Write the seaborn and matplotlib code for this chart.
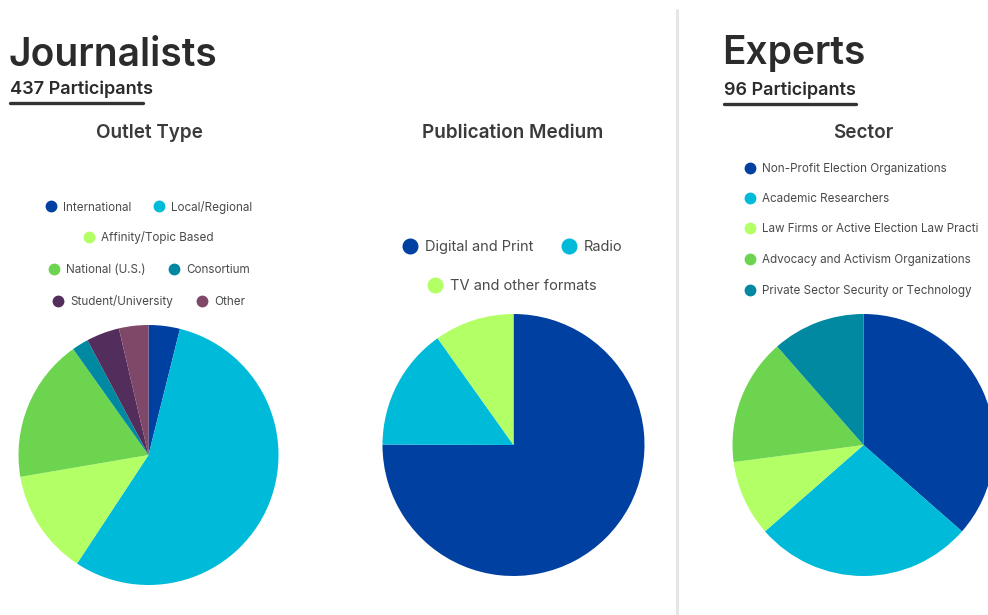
import matplotlib
matplotlib.use("Agg")
import matplotlib.pyplot as plt
from matplotlib.lines import Line2D
import seaborn as sns

# ---------------- data ----------------
outlet_labels = ["International", "Local/Regional", "Affinity/Topic Based",
                 "National (U.S.)", "Consortium", "Student/University", "Other"]
outlet_values = [17, 242, 57, 78, 9, 18, 16]

medium_labels = ["Digital and Print", "Radio", "TV and other formats"]
medium_values = [328, 66, 43]

sector_labels = ["Non-Profit Election Organizations", "Academic Researchers",
                 "Law Firms or Active Election Law Practi",
                 "Advocacy and Activism Organizations",
                 "Private Sector Security or Technology"]
sector_values = [35, 26, 9, 15, 11]

journalists_n = 437
experts_n = 96

# ---------------- style ----------------
sns.set_theme(style="white")
plt.rcParams["font.family"] = ["Inter", "DejaVu Sans"]

DARK_BLUE = "#0040A1"
CYAN = "#00BAD9"
LIME = "#B3FF66"
GREEN = "#6DD44F"
TEAL = "#0089A1"
PURPLE = "#532D5C"
MAUVE = "#7F4868"

outlet_pal = sns.color_palette([DARK_BLUE, CYAN, LIME, GREEN, TEAL, PURPLE, MAUVE])
medium_pal = sns.color_palette([DARK_BLUE, CYAN, LIME])
sector_pal = sns.color_palette([DARK_BLUE, CYAN, LIME, GREEN, TEAL])

W, H = 988, 615
fig = plt.figure(figsize=(W / 100, H / 100), dpi=100)
fig.patch.set_facecolor("white")

TXT = "#2b2b2b"
LEG = "#4a4a4a"


def fx(x):
    return x / W


def fy(y):
    return 1 - y / H


def pie_axes(cx, cy, r):
    ax = fig.add_axes([fx(cx - r), fy(cy + r), 2 * r / W, 2 * r / H])
    ax.set_xlim(-1, 1)
    ax.set_ylim(-1, 1)
    ax.set_axis_off()
    return ax


def draw_pie(ax, values, pal):
    ax.pie(values, colors=pal, startangle=90, counterclock=False, radius=1,
           wedgeprops=dict(linewidth=0), frame=False)
    ax.set_xlim(-1, 1)
    ax.set_ylim(-1, 1)


# pies
ax1 = pie_axes(148.5, 455, 130)
draw_pie(ax1, outlet_values, outlet_pal)
ax2 = pie_axes(513.5, 445, 131)
draw_pie(ax2, medium_values, medium_pal)
ax3 = pie_axes(863.5, 445, 131)
draw_pie(ax3, sector_values, sector_pal)


def legend_row(labels, colors, cx, cy, fs, ms, loc="center", spacing=2.0):
    handles = [Line2D([0], [0], marker="o", linestyle="", markersize=ms,
                      markerfacecolor=c, markeredgecolor=c) for c in colors]
    fig.legend(handles, labels, loc=loc, bbox_to_anchor=(fx(cx), fy(cy)),
               ncol=len(labels), frameon=False, fontsize=fs,
               handlelength=0.9, handletextpad=0.58, columnspacing=spacing,
               labelcolor=LEG, borderpad=0, borderaxespad=0)


# legend for outlet type
rows1 = [[0, 1], [2], [3, 4], [5, 6]]
ys1 = [207, 238, 270, 302]
for row, y in zip(rows1, ys1):
    legend_row([outlet_labels[i] for i in row], [outlet_pal[i] for i in row],
               149, y, 8.4, 7.5)

# legend for medium
rows2 = [[0, 1], [2]]
ys2 = [247, 286]
for row, y in zip(rows2, ys2):
    legend_row([medium_labels[i] for i in row], [medium_pal[i] for i in row],
               513, y, 10.5, 10.5, spacing=2.0)

# legend for sector (left aligned)
ys3 = [169, 199, 229, 260, 291]
for i, y in enumerate(ys3):
    legend_row([sector_labels[i]], [sector_pal[i]], 744.5, y, 8.4, 7.5,
               loc="center left")

# headings
fig.text(fx(8), fy(55), "Journalists", fontsize=28, fontweight="semibold",
         color=TXT, ha="left", va="center")
fig.text(fx(10), fy(89), f"{journalists_n} Participants", fontsize=13,
         fontweight="semibold", color=TXT, ha="left", va="center")
fig.add_artist(Line2D([fx(10), fx(143)], [fy(103), fy(103)], color="#333333",
                      linewidth=2.4, solid_capstyle="round"))

fig.text(fx(722), fy(53), "Experts", fontsize=28, fontweight="semibold",
         color=TXT, ha="left", va="center")
fig.text(fx(724), fy(90), f"{experts_n} Participants", fontsize=13,
         fontweight="semibold", color=TXT, ha="left", va="center")
fig.add_artist(Line2D([fx(724), fx(856)], [fy(104), fy(104)], color="#333333",
                      linewidth=2.4, solid_capstyle="round"))

# sub titles
fig.text(fx(149), fy(133), "Outlet Type", fontsize=13.6, fontweight="semibold",
         color="#3a3a3a", ha="center", va="center")
fig.text(fx(513), fy(133), "Publication Medium", fontsize=13.6, fontweight="semibold",
         color="#3a3a3a", ha="center", va="center")
fig.text(fx(863), fy(133), "Sector", fontsize=13.6, fontweight="semibold",
         color="#3a3a3a", ha="center", va="center")

# divider
fig.add_artist(Line2D([fx(677), fx(677)], [fy(10), fy(615)], color="#e6e6e6",
                      linewidth=2.2))

fig.savefig("out.png", dpi=100, facecolor="white")
